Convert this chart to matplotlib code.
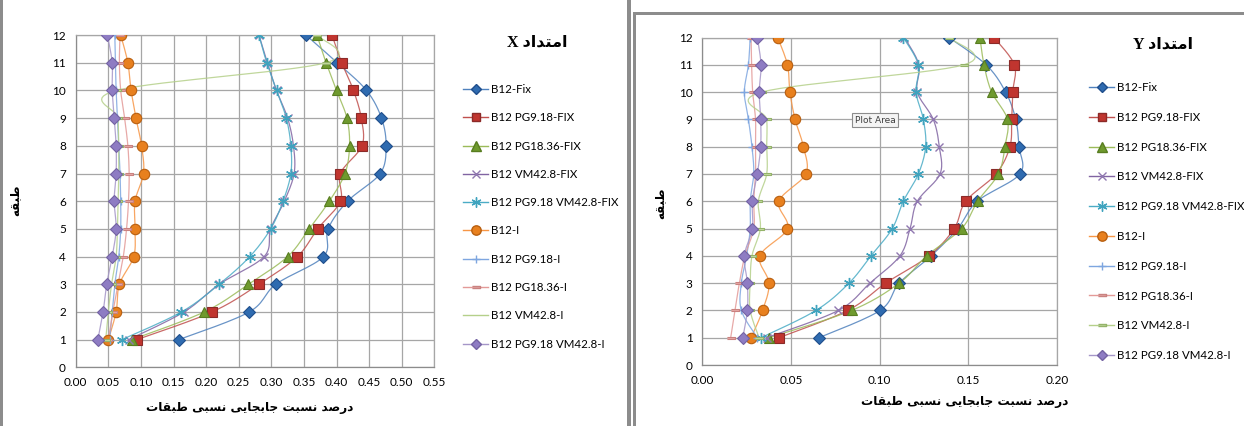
import numpy as np
import matplotlib
matplotlib.use("Agg")
import matplotlib.pyplot as plt
from matplotlib.lines import Line2D
from matplotlib.patches import Rectangle

plt.rcParams['font.family'] = ['Lato', 'DejaVu Sans']

# ---------------------------------------------------------------- data
floors = [1, 2, 3, 4, 5, 6, 7, 8, 9, 10, 11, 12]

labels = ["B12-Fix", "B12 PG9.18-FIX", "B12 PG18.36-FIX", "B12 VM42.8-FIX",
          "B12 PG9.18 VM42.8-FIX", "B12-I", "B12 PG9.18-I", "B12 PG18.36-I",
          "B12 VM42.8-I", "B12 PG9.18 VM42.8-I"]

# X direction drift ratio (%)
x_fix = [0.158, 0.266, 0.307, 0.380, 0.387, 0.417, 0.467, 0.476, 0.469, 0.446, 0.401, 0.353]
x_pg918_fix = [0.0935, 0.209, 0.281, 0.340, 0.371, 0.406, 0.406, 0.439, 0.438, 0.426, 0.408, 0.393]
x_pg1836_fix = [0.086, 0.197, 0.265, 0.325, 0.358, 0.389, 0.413, 0.420, 0.416, 0.400, 0.384, 0.370]
x_vm428_fix = [0.081, 0.166, 0.220, 0.289, 0.299, 0.320, 0.335, 0.334, 0.325, 0.308, 0.294, 0.281]
x_pg918_vm428_fix = [0.0705, 0.162, 0.220, 0.267, 0.299, 0.318, 0.330, 0.330, 0.323, 0.308, 0.293, 0.281]
x_i = [0.050, 0.062, 0.067, 0.089, 0.091, 0.091, 0.104, 0.101, 0.0925, 0.085, 0.080, 0.069]
x_pg918_i = [0.052, 0.056, 0.060, 0.066, 0.069, 0.069, 0.068, 0.066, 0.064, 0.062, 0.061, 0.060]
x_pg1836_i = [0.050, 0.057, 0.065, 0.073, 0.078, 0.081, 0.082, 0.080, 0.075, 0.069, 0.067, 0.068]
x_vm428_i = [0.046, 0.050, 0.055, 0.062, 0.064, 0.065, 0.066, 0.066, 0.065, 0.063, 0.384, 0.370]
x_pg918_vm428_i = [0.034, 0.042, 0.0475, 0.056, 0.062, 0.059, 0.062, 0.062, 0.059, 0.056, 0.056, 0.0485]

# Y direction drift ratio (%)
y_fix = [0.0658, 0.1002, 0.111, 0.129, 0.144, 0.155, 0.179, 0.1785, 0.1767, 0.171, 0.160, 0.139]
y_pg918_fix = [0.0432, 0.082, 0.1034, 0.1278, 0.142, 0.1485, 0.1656, 0.1734, 0.1744, 0.175, 0.1759, 0.1644]
y_pg1836_fix = [0.0376, 0.0842, 0.111, 0.1265, 0.1462, 0.1552, 0.1669, 0.1706, 0.172, 0.1631, 0.1588, 0.1565]
y_vm428_fix = [0.0363, 0.0767, 0.0945, 0.1114, 0.1171, 0.1212, 0.134, 0.1336, 0.1302, 0.1212, 0.1221, 0.1139]
y_pg918_vm428_fix = [0.0331, 0.0641, 0.0827, 0.0951, 0.1071, 0.1133, 0.1218, 0.1259, 0.1246, 0.1205, 0.1218, 0.1133]
y_i = [0.0275, 0.034, 0.0376, 0.0325, 0.048, 0.0432, 0.0583, 0.057, 0.0523, 0.0494, 0.048, 0.0425]
y_pg918_i = [0.031, 0.022, 0.022, 0.025, 0.027, 0.027, 0.029, 0.028, 0.026, 0.0237, 0.026, 0.027]
y_pg1836_i = [0.016, 0.0184, 0.0209, 0.024, 0.029, 0.029, 0.030, 0.030, 0.030, 0.0284, 0.0278, 0.0275]
y_vm428_i = [0.032, 0.027, 0.027, 0.028, 0.0327, 0.0316, 0.0363, 0.0363, 0.0363, 0.0335, 0.1475, 0.139]
y_pg918_vm428_i = [0.0228, 0.0254, 0.0254, 0.0237, 0.0282, 0.0282, 0.031, 0.0329, 0.0329, 0.0321, 0.0331, 0.031]

x_series = [x_fix, x_pg918_fix, x_pg1836_fix, x_vm428_fix, x_pg918_vm428_fix,
            x_i, x_pg918_i, x_pg1836_i, x_vm428_i, x_pg918_vm428_i]
y_series = [y_fix, y_pg918_fix, y_pg1836_fix, y_vm428_fix, y_pg918_vm428_fix,
            y_i, y_pg918_i, y_pg1836_i, y_vm428_i, y_pg918_vm428_i]

x_ticks = [0.00, 0.05, 0.10, 0.15, 0.20, 0.25, 0.30, 0.35, 0.40, 0.45, 0.50, 0.55]
y_ticks = [0.00, 0.05, 0.10, 0.15, 0.20]

# Persian strings written in presentation forms (visual order)
title_x = "X " + "\uFEA9\uFE8D\uFEAA\uFE98\uFEE3\uFE8D"
title_y = "Y " + "\uFEA9\uFE8D\uFEAA\uFE98\uFEE3\uFE8D"
floor_label = "\uFEEA\uFED8\uFE92\uFEC3"
drift_label = ("\uFE95\uFE8E\uFED8\uFE92\uFEC3 \uFEF0\uFE92\uFEB4\uFEE7 "
               "\uFEF0\uFEF3\uFE8E\uFEA0\uFE91\uFE8E\uFE9F \uFE96\uFE92\uFEB4\uFEE7 "
               "\uFEAA\uFEBB\uFEAD\uFEA9")

# ---------------------------------------------------------------- styles
dash = [(-1, -0.35), (1, -0.35), (1, 0.35), (-1, 0.35)]
styles = [
    dict(color='#4F81BD', marker='D', ms=6, mfc='#2F6BB0', mec='#1F4E8C'),
    dict(color='#C0504D', marker='s', ms=7, mfc='#C0352F', mec='#8B2A28'),
    dict(color='#9BBB59', marker='^', ms=7.5, mfc='#6F9A2E', mec='#587D20'),
    dict(color='#8064A2', marker='x', ms=6, mfc='#9078B0', mec='#9078B0'),
    dict(color='#4BACC6', marker=(6, 2, 0), ms=8, mfc='#3FA3BE', mec='#3FA3BE'),
    dict(color='#F79646', marker='o', ms=7.5, mfc='#E8801E', mec='#B85F10'),
    dict(color='#7EA6E0', marker='+', ms=6, mfc='#7EA6E0', mec='#7EA6E0'),
    dict(color='#E39A98', marker=dash, ms=6, mfc='#E8A8A6', mec='#C98280'),
    dict(color='#B5D08A', marker=dash, ms=6, mfc='#C5DBA0', mec='#94B36A'),
    dict(color='#A596C8', marker='D', ms=6, mfc='#8E7CC3', mec='#7463A3'),
]


def smooth(xv, yv, n=16):
    """Bezier smoothing through every point (spreadsheet-style smoothed line)."""
    pts = np.column_stack([xv, yv]).astype(float)
    ext = np.vstack([pts[0], pts, pts[-1]])
    t = np.linspace(0, 1, n)[:, None]
    out = []
    for i in range(len(pts) - 1):
        p0, p1, p2, p3 = ext[i], ext[i + 1], ext[i + 2], ext[i + 3]
        c1 = p1 + (p2 - p0) / 6.0
        c2 = p2 - (p3 - p1) / 6.0
        seg = ((1 - t) ** 3) * p1 + 3 * ((1 - t) ** 2) * t * c1 + 3 * (1 - t) * t ** 2 * c2 + t ** 3 * p2
        out.append(seg if i == 0 else seg[1:])
    c = np.vstack(out)
    return c[:, 0], c[:, 1]


W, H = 1244, 426
fig = plt.figure(figsize=(W / 100, H / 100), dpi=100)
fig.patch.set_facecolor('white')


def fx(px):
    return px / W


def fy(py):
    return 1 - py / H


def panel(rect, data, xt, xfmt, title, title_pos, leg_pos, leg_spacing,
          ylab_pos, xlab_pos, no_marker_legend):
    ax = fig.add_axes(rect)
    handles = []
    for vals, st, lab in zip(data, styles, labels):
        sx, sy = smooth(vals, floors)
        ax.plot(sx, sy, color=st['color'], lw=0.9, alpha=0.85, zorder=2)
        thin = st['marker'] in ('x', '+') or isinstance(st['marker'], tuple)
        ax.plot(vals, floors, ls='none', marker=st['marker'], ms=st['ms'],
                mfc=st['mfc'], mec=st['mec'], mew=1.0 if thin else 0.8,
                zorder=3)
        mk = st['marker']
        if lab in no_marker_legend:
            mk = 'None'
        handles.append(Line2D([], [], color=st['color'], lw=1.0, marker=mk,
                              ms=st['ms'] * 0.9, mfc=st['mfc'], mec=st['mec']))
    ax.set_xlim(xt[0], xt[-1])
    ax.set_ylim(0, 12)
    ax.set_xticks(xt)
    ax.set_xticklabels([xfmt.format(v) for v in xt])
    ax.set_yticks(range(0, 13))
    ax.grid(True, color='#A6A6A6', lw=0.9)
    ax.set_axisbelow(True)
    for s in ax.spines.values():
        s.set_color('#A6A6A6')
        s.set_linewidth(0.9)
    ax.spines['left'].set_color('#8C8C8C')
    ax.spines['bottom'].set_color('#8C8C8C')
    ax.tick_params(length=0, labelsize=8.5, colors='black', pad=7)

    fig.text(fx(title_pos[0]), fy(title_pos[1]), title, ha='center', va='center',
             fontsize=11.5, fontweight='bold',
             family=['Liberation Serif', 'DejaVu Sans'])
    fig.text(fx(ylab_pos[0]), fy(ylab_pos[1]), floor_label, rotation=90,
             ha='center', va='center', fontsize=8.5, fontweight='bold',
             family=['DejaVu Sans'])
    fig.text(fx(xlab_pos[0]), fy(xlab_pos[1]), drift_label, ha='center',
             va='center', fontsize=8.7, fontweight='bold', family=['DejaVu Sans'])
    fig.legend(handles, labels, loc='upper left',
               bbox_to_anchor=(fx(leg_pos[0]), fy(leg_pos[1])),
               bbox_transform=fig.transFigure, frameon=False,
               fontsize=8.3, handlelength=2.2, handletextpad=0.25,
               labelspacing=leg_spacing, borderpad=0, borderaxespad=0,
               numpoints=1)
    return ax


# left panel: X direction
panel([fx(75.7), fy(367.4), fx(434.3) - fx(75.7), fy(35) - fy(367.4)],
      x_series, x_ticks, "{:.2f}", title_x, (537, 43), (463, 84), 1.5,
      (15, 200), (250, 408), {"B12 VM42.8-I"})

# right panel: Y direction
panel([fx(702.3), fy(365), fx(1057.1) - fx(702.3), fy(37.5) - fy(365)],
      y_series, y_ticks, "{:.2f}", title_y, (1163, 45), (1089, 82), 1.63,
      (660, 203), (965, 402), set())

# tooltip box left on the right chart
fig.text(fx(875), fy(120), "Plot Area", ha='center', va='center', fontsize=6.5,
         color='#404040', family=['DejaVu Sans'],
         bbox=dict(boxstyle='square,pad=0.25', fc='#F4F4F4', ec='#8C8C8C', lw=0.8))

# panel frames
frame_col = '#8C8C8C'
fig.add_artist(Rectangle((fx(0), 0), fx(3), 1, transform=fig.transFigure,
                         color=frame_col, lw=0))
fig.add_artist(Rectangle((fx(627), 0), fx(4), 1, transform=fig.transFigure,
                         color=frame_col, lw=0))
fig.add_artist(Rectangle((fx(633), 0), fx(3), fy(12), transform=fig.transFigure,
                         color=frame_col, lw=0))
fig.add_artist(Rectangle((fx(633), fy(15)), 1 - fx(633), fy(12) - fy(15),
                         transform=fig.transFigure, color=frame_col, lw=0))

fig.savefig("out.png", dpi=100, facecolor='white')
